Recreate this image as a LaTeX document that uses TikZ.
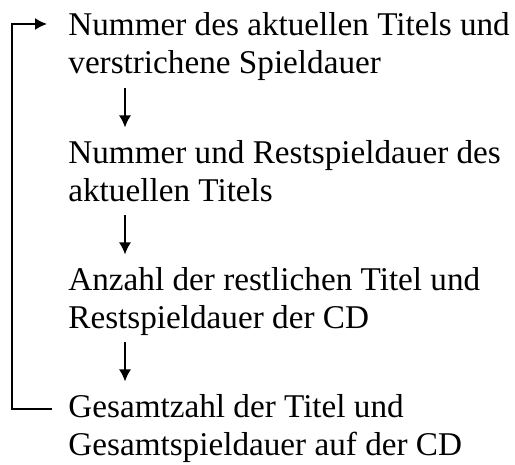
\documentclass[tikz,border=0pt]{standalone}
\usepackage{fontspec}
\setmainfont{Liberation Serif}
\usetikzlibrary{arrows.meta}
\begin{document}
\begin{tikzpicture}[x=0.5pt,y=-0.5pt,
  stufe/.style={anchor=north west,align=left,inner sep=0pt,
    font=\fontsize{16.6}{19}\selectfont},
  pfeil/.style={-{Latex[length=6pt,width=6pt]},line width=0.8pt}]
\useasboundingbox (0,0) rectangle (515,465);
\node[stufe,at={(68,12.5)}] (nummer) {Nummer des aktuellen Titels und\\verstrichene Spieldauer};
\node[stufe,at={(68,140.5)}] (rest) {Nummer und Restspieldauer des\\aktuellen Titels};
\node[stufe,at={(68,267.5)}] (anzahl) {Anzahl der restlichen Titel und\\Restspieldauer der CD};
\node[stufe,at={(68,394.5)}] (gesamt) {Gesamtzahl der Titel und\\Gesamtspieldauer auf der CD};
\draw[pfeil] ([xshift=28.5pt,yshift=26pt]rest.north west) -- ([xshift=28.5pt,yshift=6.5pt]rest.north west);
\draw[pfeil] ([xshift=28.5pt,yshift=26pt]anzahl.north west) -- ([xshift=28.5pt,yshift=6.5pt]anzahl.north west);
\draw[pfeil] ([xshift=28.5pt,yshift=26pt]gesamt.north west) -- ([xshift=28.5pt,yshift=6.5pt]gesamt.north west);
\draw[pfeil] ([xshift=-8pt,yshift=-7.25pt]gesamt.north west) -- ++(-20pt,0) |- ([xshift=-10.5pt,yshift=-5.75pt]nummer.north west);
\end{tikzpicture}
\end{document}
